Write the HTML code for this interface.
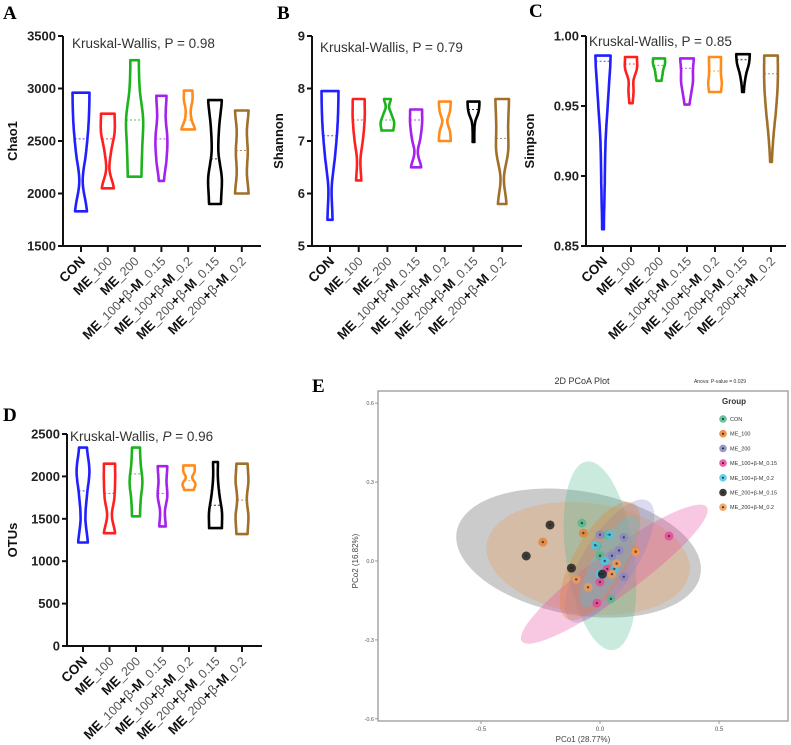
<!DOCTYPE html>
<html><head><meta charset="utf-8">
<style>
html,body{margin:0;padding:0;background:#fff;}
svg{display:block;font-family:"Liberation Sans",Arial,sans-serif;}
</style></head>
<body>
<svg id="fig" width="791" height="745" viewBox="0 0 791 745" xmlns="http://www.w3.org/2000/svg">
</svg>
<script>
// ---------- Data: violin panels ----------
const groups = ["CON","ME_100","ME_200","ME_100+β-M_0.15","ME_100+β-M_0.2","ME_200+β-M_0.15","ME_200+β-M_0.2"];
const groupColors = ["#1f1fff","#ff1f1f","#1db31d","#a421f0","#ff8c1a","#000000","#a06f2a"];

const chaoMin = [1830,2050,2160,2120,2610,1900,2000];
const chaoMax = [2960,2760,3270,2930,2980,2890,2790];
const chaoMed = [2520,2520,2700,2520,2700,2330,2410];
const chaoShape = [[7,2,6,9,10],[7,2,4,8,8],[8,9,10,6,5],[3,6,7,5,6],[8,4,3,5,5],[7,8,4,5,8],[8,6,7,6,8]];
const chaoTicks = [1500,2000,2500,3000,3500];

const shanMin = [5.5,6.25,7.2,6.5,7.0,6.98,5.8];
const shanMax = [7.95,7.8,7.8,7.6,7.75,7.75,7.8];
const shanMed = [7.1,7.4,7.4,7.4,7.4,7.6,7.05];
const shanShape = [[3,2,6,9,10],[3,2,5,7,7],[7,8,5,2,4],[6,2,5,7,7],[7,6,3,6,7],[1,1,2,6,7],[5,2,7,7,8]];
const shanTicks = [5,6,7,8,9];

const simpMin = [0.862,0.952,0.968,0.951,0.960,0.960,0.910];
const simpMax = [0.986,0.985,0.984,0.984,0.985,0.987,0.986];
const simpMed = [0.982,0.980,0.979,0.977,0.975,0.983,0.973];
const simpShape = [[1,2,3,6,9],[2,3,3,7,7],[3,4,5,7,7],[3,5,7,7,8],[7,8,7,7,7],[1,2,4,7,8],[1,3,6,8,8]];
const simpTicks = ["0.85","0.90","0.95","1.00"];

const otuMin = [1220,1330,1530,1410,1840,1390,1320];
const otuMax = [2340,2150,2340,2120,2130,2170,2150];
const otuMed = [1830,1800,2030,1800,1950,1660,1720];
const otuShape = [[6,3,5,8,5],[7,3,6,7,7],[5,6,8,6,5],[4,3,6,5,6],[6,8,4,7,7],[8,8,5,3,3],[7,8,6,8,7]];
const otuTicks = [0,500,1000,1500,2000,2500];

// ---------- Data: PCoA ----------
const pcoaGroups = ["CON","ME_100","ME_200","ME_100+β-M_0.15","ME_100+β-M_0.2","ME_200+β-M_0.15","ME_200+β-M_0.2"];
const pcoaColors = ["#4fb98f","#e87f2e","#8a86c6","#e8449a","#4cc6ea","#1a1a1a","#f09a55"];
const pcoaX1 = [-0.076,0.046,-0.013,0.03,0.0];
const pcoaY1 = [0.144,-0.144,0.057,0.10,0.02];
const pcoaX2 = [-0.24,-0.07,0.15,0.05];
const pcoaY2 = [0.072,0.106,0.04,-0.03];
const pcoaX3 = [0.0,0.10,0.08,0.10,0.05];
const pcoaY3 = [0.10,0.09,0.04,-0.06,0.02];
const pcoaX4 = [0.29,-0.013,0.0,0.03];
const pcoaY4 = [0.095,-0.160,-0.08,-0.03];
const pcoaX5 = [0.04,0.02,0.06,-0.02,0.0];
const pcoaY5 = [0.10,0.0,-0.03,0.06,-0.05];
const pcoaX6 = [-0.21,-0.31,-0.12,0.01];
const pcoaY6 = [0.137,0.019,-0.027,-0.05];
const pcoaX7 = [0.15,0.05,-0.10,-0.05,0.07];
const pcoaY7 = [0.035,-0.05,-0.07,-0.10,-0.01];
const pcoaPtsX = [pcoaX1,pcoaX2,pcoaX3,pcoaX4,pcoaX5,pcoaX6,pcoaX7];
const pcoaPtsY = [pcoaY1,pcoaY2,pcoaY3,pcoaY4,pcoaY5,pcoaY6,pcoaY7];
const ellCx = [0.0,0.0,0.04,0.06,0.04,-0.09,-0.05];
const ellCy = [0.02,0.0,0.0,-0.05,0.0,0.03,0.01];
const ellA = [0.40,0.28,0.30,0.48,0.22,0.52,0.43];
const ellB = [0.13,0.10,0.10,0.085,0.06,0.235,0.21];
const ellAng = [98,60,57,36,60,-10,-8];
const pcoaXTicks = [-0.5,0.0,0.5];
const pcoaYTicks = ["-0.6","-0.3","0.0","0.3","0.6"];

const NS="http://www.w3.org/2000/svg";
const svg=document.getElementById('fig');
function mk(tag,attrs,parent){const e=document.createElementNS(NS,tag);for(const k in attrs)e.setAttribute(k,attrs[k]);(parent||svg).appendChild(e);return e;}

function cr(p0,p1,p2,p3,t){const t2=t*t,t3=t2*t;return 0.5*((2*p1)+(-p0+p2)*t+(2*p0-5*p1+4*p2-p3)*t2+(-p0+3*p1-3*p2+p3)*t3);}
function halfW(sh,t){const n=sh.length-1;let s=t*n;let i=Math.min(Math.floor(s),n-1);let u=s-i;
  const g=j=>sh[Math.max(0,Math.min(n,j))];return Math.max(0.8,cr(g(i-1),g(i),g(i+1),g(i+2),u));}

function xLabel(g,x,y,label){
  const t=mk('text',{x:x,y:y,'text-anchor':'end',transform:`rotate(-45 ${x} ${y})`,'font-size':'13.5','font-weight':'bold',fill:'#111'},g);
  
  
  const parts=label.match(/(_[0-9.]+|[^_]+)/g);
  parts.forEach(p=>{const s=mk('tspan',{},t);
    if(p.startsWith('_')){s.setAttribute('font-weight','normal');s.setAttribute('fill','#555');s.setAttribute('font-size','12.5');s.textContent=p;}
    else{
      const bits=p.split(/(β)/);
      bits.forEach(b=>{if(!b)return;const q=mk('tspan',{},s);if(b==='β'){q.setAttribute('font-weight','normal');q.setAttribute('fill','#555');}q.textContent=b;});
    }});
}

function violinPanel(o){
  const g=mk('g',{});
  
  
  const yS=v=>o.y0-(v-o.vmin)/(o.vmax-o.vmin)*(o.y0-o.y1);
  const L=mk('text',{x:o.lx,y:o.ly,'font-family':'"Liberation Serif",serif','font-weight':'bold','font-size':'19',fill:'#000'},g);
  
  
  L.textContent=o.letter;
  const ax=mk('path',{d:`M${o.ax},${o.y1} L${o.ax},${o.y0} L${o.axEnd},${o.y0}`,stroke:'#111','stroke-width':'2',fill:'none'},g);
  
  
  o.ticks.forEach(tv=>{const v=parseFloat(tv);const y=yS(v);
    mk('line',{x1:o.ax-5,x2:o.ax,y1:y,y2:y,stroke:'#111','stroke-width':'2'},g);
    const t=mk('text',{x:o.ax-7,y:y+4.5,'text-anchor':'end','font-size':'13','font-weight':'bold',fill:'#222'},g);
    
    
    t.textContent=tv;});
  const yt=mk('text',{x:o.tx,y:(o.y0+o.y1)/2,'text-anchor':'middle',transform:`rotate(-90 ${o.tx} ${(o.y0+o.y1)/2})`,'font-size':'13','font-weight':'bold',fill:'#111'},g);
  
  
  yt.textContent=o.title;
  const kt=mk('text',{x:o.kx,y:o.ky,'font-size':'13.5',fill:'#333'},g);
  
  
  kt.innerHTML=o.ktext;
  groups.forEach((gn,i)=>{
    const cx=o.x0+i*o.dx;
    mk('line',{x1:cx,x2:cx,y1:o.y0,y2:o.y0+6,stroke:'#111','stroke-width':'2'},g);
    xLabel(g,cx+5,o.y0+16,gn);
    const lo=yS(o.mins[i]),hi=yS(o.maxs[i]);
    const N=30;let r=[],l=[];
    for(let k=0;k<=N;k++){const t=k/N;const y=lo+(hi-lo)*t;const w=halfW(o.shapes[i],t)*o.scale;r.push([cx+w,y]);l.push([cx-w,y]);}
    let d='M'+r.map(p=>p[0].toFixed(1)+','+p[1].toFixed(1)).join(' L')+' L'+l.reverse().map(p=>p[0].toFixed(1)+','+p[1].toFixed(1)).join(' L')+' Z';
    const v=mk('path',{d:d,fill:'none',stroke:groupColors[i],'stroke-width':'2.6','stroke-linejoin':'round'},g);
    
    
    const my=yS(o.meds[i]);const mw=halfW(o.shapes[i],(my-lo)/(hi-lo))*o.scale;
    mk('line',{x1:cx-mw,x2:cx+mw,y1:my,y2:my,stroke:groupColors[i],'stroke-width':'1','stroke-dasharray':'2,2',opacity:'0.8'},g);
  });
}

violinPanel({name:'chao1-panel',letter:'A',lx:3,ly:19,ax:63,axEnd:261,y0:246,y1:36,vmin:1500,vmax:3500,ticks:chaoTicks,title:'Chao1',tx:17,kx:72,ky:48,
  ktext:'Kruskal-Wallis, P = 0.98',x0:81,dx:26.8,mins:chaoMin,maxs:chaoMax,meds:chaoMed,shapes:chaoShape,scale:0.85});
violinPanel({name:'shannon-panel',letter:'B',lx:277,ly:19,ax:312,axEnd:522,y0:246,y1:36,vmin:5,vmax:9,ticks:shanTicks,title:'Shannon',tx:283,kx:320,ky:52,
  ktext:'Kruskal-Wallis, P = 0.79',x0:330,dx:28.7,mins:shanMin,maxs:shanMax,meds:shanMed,shapes:shanShape,scale:0.85});
violinPanel({name:'simpson-panel',letter:'C',lx:529,ly:17,ax:586,axEnd:786,y0:246,y1:36,vmin:0.85,vmax:1.0,ticks:simpTicks,title:'Simpson',tx:534,kx:589,ky:46,
  ktext:'Kruskal-Wallis, P = 0.85',x0:603,dx:28,mins:simpMin,maxs:simpMax,meds:simpMed,shapes:simpShape,scale:0.85});
violinPanel({name:'otus-panel',letter:'D',lx:3,ly:421,ax:67,axEnd:262,y0:646,y1:434,vmin:0,vmax:2500,ticks:otuTicks,title:'OTUs',tx:17,kx:70,ky:441,
  ktext:'Kruskal-Wallis, <tspan font-style="italic">P</tspan> = 0.96',x0:83,dx:26.5,mins:otuMin,maxs:otuMax,meds:otuMed,shapes:otuShape,scale:0.8});

// ---------- PCoA ----------
(function(){
  const g=mk('g',{});
  
  
  const X=v=>600+v*238, Y=v=>561-v*263;
  const L=mk('text',{x:312,y:392,'font-family':'"Liberation Serif",serif','font-weight':'bold','font-size':'19'},g);
  
  
  L.textContent='E';
  const tt=mk('text',{x:582,y:384,'text-anchor':'middle','font-size':'9',fill:'#333'},g);
  
  
  tt.textContent='2D PCoA Plot';
  const an=mk('text',{x:720,y:383,'text-anchor':'middle','font-size':'5',fill:'#333'},g);
  
  
  an.textContent='Anova: P-value = 0.029';
  const fr=mk('rect',{x:378,y:391,width:410,height:330,fill:'none',stroke:'#999','stroke-width':'1.3'},g);
  
  
  pcoaYTicks.forEach(tv=>{const y=Y(parseFloat(tv));mk('line',{x1:375,x2:378,y1:y,y2:y,stroke:'#999'},g);
    const t=mk('text',{x:374,y:y+2,'text-anchor':'end','font-size':'5.5',fill:'#555'},g);
    
    
    t.textContent=tv;});
  pcoaXTicks.forEach(v=>{const x=X(v);mk('line',{x1:x,x2:x,y1:721,y2:724,stroke:'#999'},g);
    const t=mk('text',{x:x,y:731,'text-anchor':'middle','font-size':'6',fill:'#555'},g);
    
    
    t.textContent=v.toFixed(1);});
  const xl=mk('text',{x:583,y:742,'text-anchor':'middle','font-size':'8',fill:'#444'},g);
  
  
  xl.textContent='PCo1 (28.77%)';
  const yl=mk('text',{x:358,y:561,'text-anchor':'middle',transform:'rotate(-90 358 561)','font-size':'8',fill:'#444'},g);
  
  
  yl.textContent='PCo2 (16.82%)';
  const order=[5,6,0,3,2,1,4];
  order.forEach(i=>{
    const fill=i===5?'#777':pcoaColors[i];
    const e=mk('ellipse',{cx:X(ellCx[i]),cy:Y(ellCy[i]),rx:ellA[i]*238,ry:ellB[i]*263,
      transform:`rotate(${-ellAng[i]} ${X(ellCx[i])} ${Y(ellCy[i])})`,fill:fill,'fill-opacity':i===5?'0.38':'0.3'},g);
    
    
  });
  pcoaPtsX.forEach((xs,i)=>{xs.forEach((xv,j)=>{
    const c=mk('circle',{cx:X(xv),cy:Y(pcoaPtsY[i][j]),r:4.5,fill:pcoaColors[i],'fill-opacity':'0.8'},g);
    
    
    mk('circle',{cx:X(xv),cy:Y(pcoaPtsY[i][j]),r:1.2,fill:'#222','fill-opacity':'0.7'},g);
  });});
  const lg=mk('g',{},g);
  
  
  const gt=mk('text',{x:722,y:404,'font-size':'8','font-weight':'bold',fill:'#333'},lg);
  gt.textContent='Group';
  pcoaGroups.forEach((n,i)=>{const y=419+i*14.7;
    const it=mk('g',{},lg);
    
    
    mk('circle',{cx:723,cy:y,r:3.8,fill:pcoaColors[i],'fill-opacity':'0.85'},it);
    mk('circle',{cx:723,cy:y,r:1,fill:'#222'},it);
    const t=mk('text',{x:730,y:y+2,'font-size':'5.5',fill:'#333'},it);
    t.textContent=n;});
})();
</script>
</body></html>
